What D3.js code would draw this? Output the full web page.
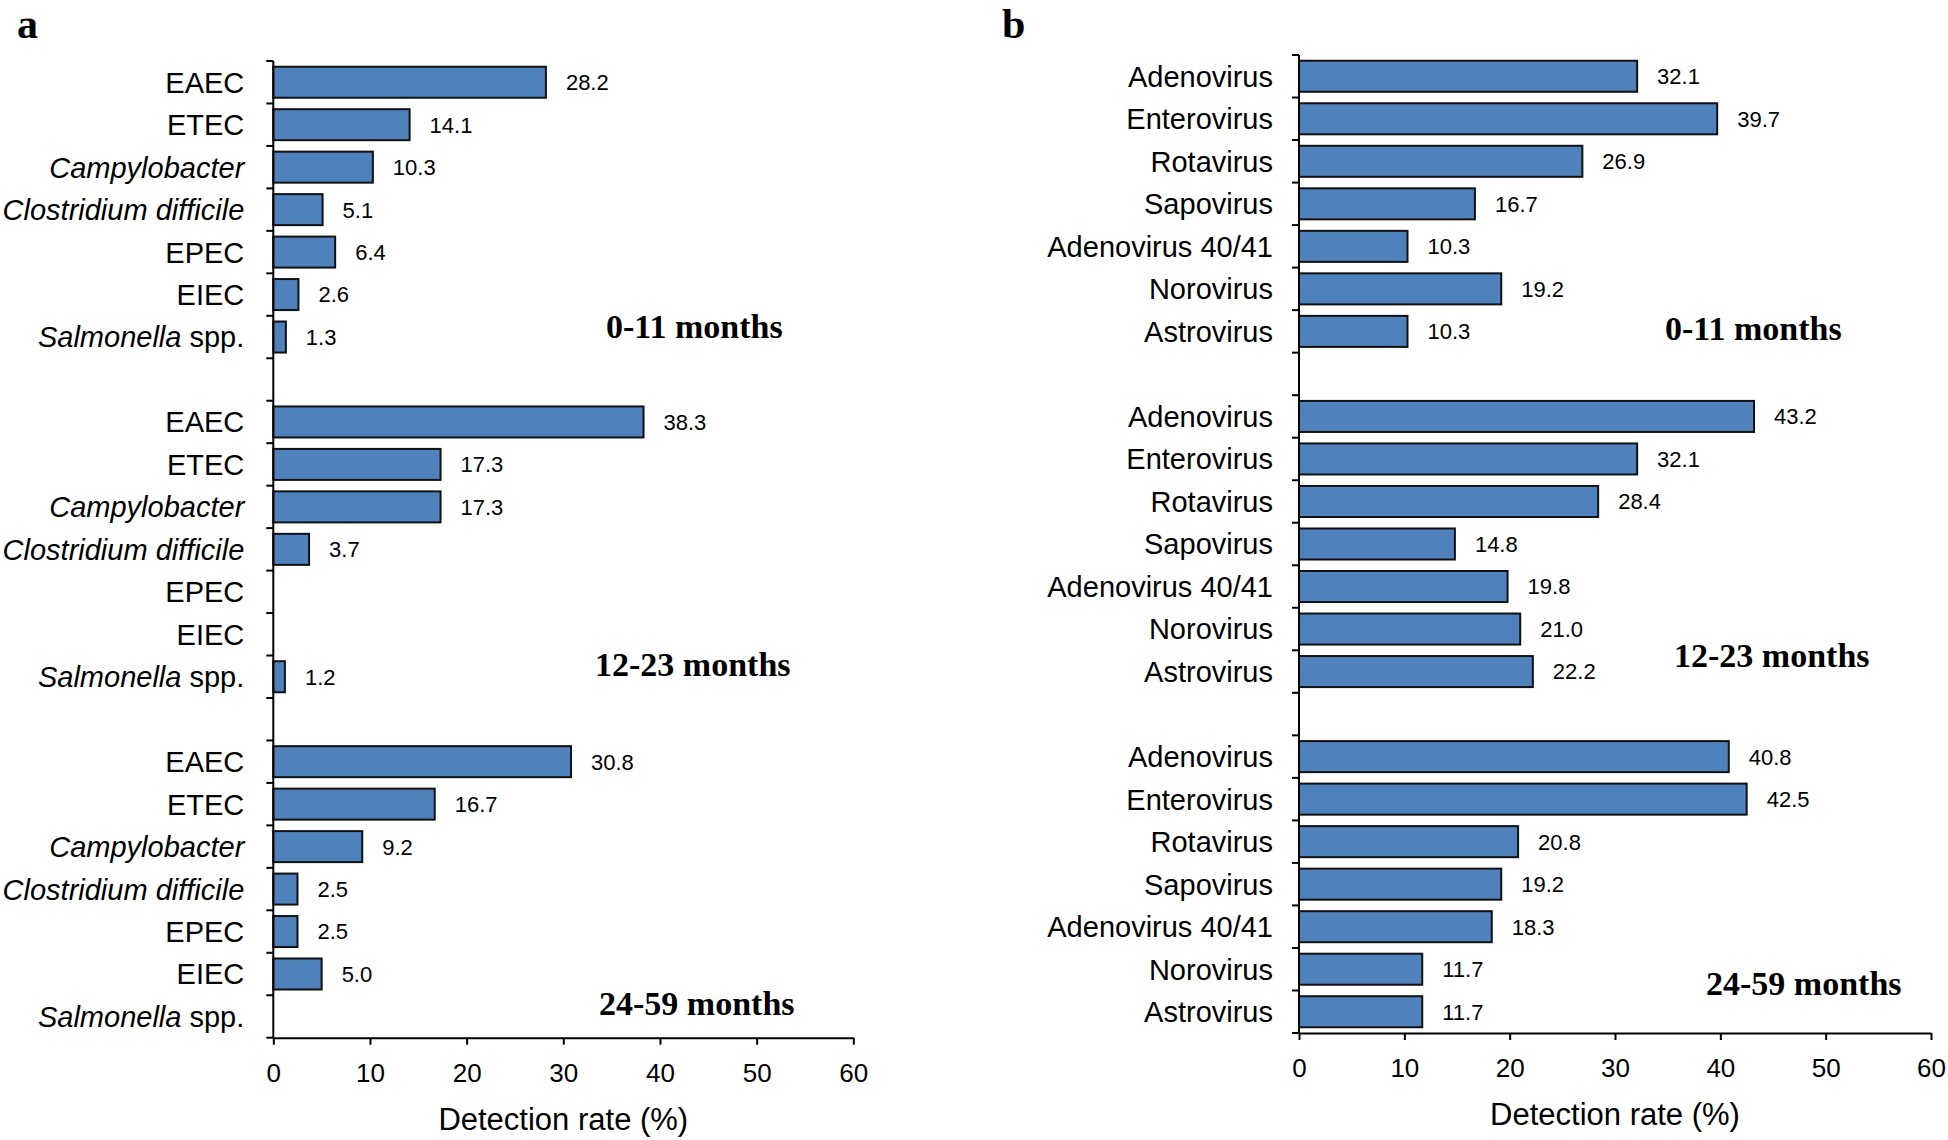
<!DOCTYPE html>
<html>
<head>
<meta charset="utf-8">
<script src="https://cdn.jsdelivr.net/npm/d3@7"></script>
<style>
  html, body { margin: 0; padding: 0; background: #fff; }
  svg { display: block; }
</style>
</head>
<body>
<svg id="chart" width="1948" height="1140"></svg>
<script>
// ---------- DATA ----------
const ageGroups = ["0-11 months", "12-23 months", "24-59 months"];

const bacteriaCategories = ["EAEC", "ETEC", "Campylobacter", "Clostridium difficile", "EPEC", "EIEC", "Salmonella spp."];
const bacteria_0_11  = [28.2, 14.1, 10.3, 5.1, 6.4, 2.6, 1.3];
const bacteria_12_23 = [38.3, 17.3, 17.3, 3.7, null, null, 1.2];
const bacteria_24_59 = [30.8, 16.7, 9.2, 2.5, 2.5, 5.0, null];

const virusCategories = ["Adenovirus", "Enterovirus", "Rotavirus", "Sapovirus", "Adenovirus 40/41", "Norovirus", "Astrovirus"];
const virus_0_11  = [32.1, 39.7, 26.9, 16.7, 10.3, 19.2, 10.3];
const virus_12_23 = [43.2, 32.1, 28.4, 14.8, 19.8, 21.0, 22.2];
const virus_24_59 = [40.8, 42.5, 20.8, 19.2, 18.3, 11.7, 11.7];

const xTicks = [0, 10, 20, 30, 40, 50, 60];
const xTitle = "Detection rate (%)";

// ---------- LAYOUT ----------
const svg = d3.select("#chart");
const SANS = "'Liberation Sans', Arial, sans-serif";
const SERIF = "'Liberation Serif', 'Times New Roman', serif";
const BAR_FILL = "#4f81bd";

function italicParts(name) {
  if (name === "Campylobacter" || name === "Clostridium difficile") return [[name, true]];
  if (name === "Salmonella spp.") return [["Salmonella", true], [" spp.", false]];
  return [[name, false]];
}

function drawPanel(opt) {
  const g = svg.append("g");
  const groups = opt.series;
  const keys = [];
  const rows = [];
  groups.forEach((vals, gi) => {
    opt.categories.forEach((c, ci) => {
      const k = gi + "-" + ci;
      keys.push(k);
      rows.push({ key: k, cat: c, value: vals[ci], group: gi });
    });
    if (gi < groups.length - 1) keys.push("blank" + gi);
  });

  const x = d3.scaleLinear().domain([0, 60]).range([opt.x0, opt.x1]);
  const y = d3.scaleBand().domain(keys).range([opt.yTop, opt.yBottom]).padding(0);
  const bw = y.bandwidth();
  const barFrac = 0.73;

  g.selectAll("rect.bar").data(rows.filter(d => d.value != null)).join("rect")
    .attr("class", "bar")
    .attr("x", x(0))
    .attr("y", d => y(d.key) + bw * (1 - barFrac) / 2)
    .attr("width", d => x(d.value) - x(0))
    .attr("height", bw * barFrac)
    .attr("fill", BAR_FILL)
    .attr("stroke", "#111")
    .attr("stroke-width", 2);

  g.selectAll("text.val").data(rows.filter(d => d.value != null)).join("text")
    .attr("class", "val")
    .attr("x", d => x(d.value) + 20)
    .attr("y", d => y(d.key) + bw / 2)
    .attr("dy", "0.36em")
    .attr("font-family", SANS)
    .attr("font-size", 22)
    .attr("fill", "#000")
    .text(d => d.value.toFixed(1));

  const labs = g.selectAll("text.cat").data(rows).join("text")
    .attr("class", "cat")
    .attr("x", x(0) - opt.labelGap)
    .attr("y", d => y(d.key) + bw / 2)
    .attr("dy", "0.36em")
    .attr("text-anchor", "end")
    .attr("font-family", SANS)
    .attr("font-size", 29)
    .attr("fill", "#000");
  labs.each(function (d) {
    const t = d3.select(this);
    italicParts(d.cat).forEach(([s, it]) => {
      t.append("tspan").attr("font-style", it ? "italic" : "normal").text(s);
    });
  });

  g.append("line")
    .attr("x1", x(0)).attr("x2", x(0))
    .attr("y1", opt.yTop).attr("y2", opt.yBottom)
    .attr("stroke", "#000").attr("stroke-width", 2);
  const bounds = keys.map(k => y(k)).concat([opt.yBottom]);
  g.selectAll("line.ytick").data(bounds).join("line")
    .attr("class", "ytick")
    .attr("x1", x(0) - 7).attr("x2", x(0))
    .attr("y1", d => d).attr("y2", d => d)
    .attr("stroke", "#000").attr("stroke-width", 2);

  const xa = g.append("g")
    .attr("transform", `translate(0,${opt.yBottom})`)
    .call(d3.axisBottom(x).tickValues(xTicks).tickSize(7).tickPadding(19).tickSizeOuter(0));
  xa.select(".domain").attr("stroke", "#000").attr("stroke-width", 2);
  xa.selectAll(".tick line").attr("stroke", "#000").attr("stroke-width", 2);
  xa.selectAll(".tick text")
    .attr("font-family", SANS).attr("font-size", 26).attr("fill", "#000");

  g.append("text")
    .attr("x", (opt.x0 + opt.x1) / 2)
    .attr("y", opt.yBottom + 92)
    .attr("text-anchor", "middle")
    .attr("font-family", SANS)
    .attr("font-size", 31)
    .attr("fill", "#000")
    .text(xTitle);

  ageGroups.forEach((lab, gi) => {
    g.append("text")
      .attr("x", opt.groupLabelX[gi])
      .attr("y", opt.groupLabelY[gi])
      .attr("font-family", SERIF)
      .attr("font-weight", "bold")
      .attr("font-size", 34)
      .attr("fill", "#000")
      .text(lab);
  });

  g.append("text")
    .attr("x", opt.letterX).attr("y", 38)
    .attr("font-family", SERIF)
    .attr("font-weight", "bold")
    .attr("font-size", 42)
    .attr("fill", "#000")
    .text(opt.letter);
}

drawPanel({
  letter: "a", letterX: 17,
  categories: bacteriaCategories,
  series: [bacteria_0_11, bacteria_12_23, bacteria_24_59],
  x0: 273.3, x1: 853.3, yTop: 61, yBottom: 1037.7,
  labelGap: 29,
  groupLabelX: [606, 595, 599],
  groupLabelY: [338, 676, 1015]
});

drawPanel({
  letter: "b", letterX: 1002,
  categories: virusCategories,
  series: [virus_0_11, virus_12_23, virus_24_59],
  x0: 1299, x1: 1931, yTop: 55, yBottom: 1033,
  labelGap: 26,
  groupLabelX: [1665, 1674, 1706],
  groupLabelY: [340, 667, 995]
});
</script>
</body>
</html>
